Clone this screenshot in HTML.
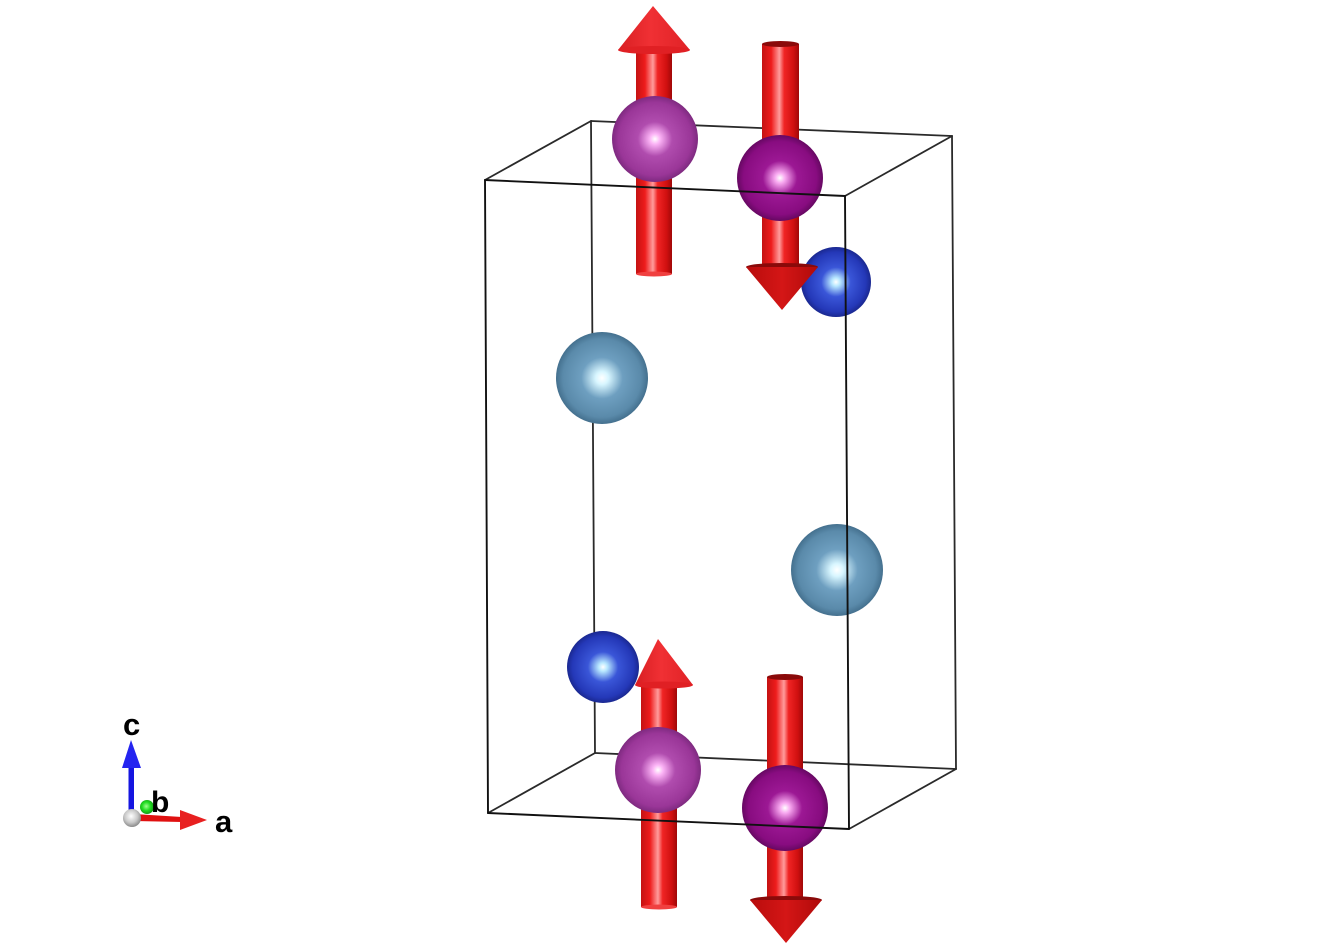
<!DOCTYPE html>
<html><head><meta charset="utf-8"><style>
html,body{margin:0;padding:0;background:#fff;}
svg{display:block;}
text{font-family:"Liberation Sans",Arial,sans-serif;font-weight:bold;}
</style></head><body>
<svg width="1320" height="950" viewBox="0 0 1320 950" xmlns="http://www.w3.org/2000/svg">
<defs>
<linearGradient id="shaft" x1="0" x2="1" y1="0" y2="0">
<stop offset="0" stop-color="#c41212"/>
<stop offset="0.25" stop-color="#ee1c1c"/>
<stop offset="0.47" stop-color="#ff9c9c"/>
<stop offset="0.6" stop-color="#f02424"/>
<stop offset="0.85" stop-color="#d01010"/>
<stop offset="1" stop-color="#a00808"/>
</linearGradient>
<linearGradient id="coneUp" x1="0" x2="1" y1="0" y2="0">
<stop offset="0" stop-color="#d81e22"/>
<stop offset="0.45" stop-color="#f03034"/>
<stop offset="1" stop-color="#e02226"/>
</linearGradient>
<linearGradient id="coneDn" x1="0" x2="1" y1="0" y2="0">
<stop offset="0" stop-color="#b80c0c"/>
<stop offset="0.5" stop-color="#d41616"/>
<stop offset="1" stop-color="#b00a0a"/>
</linearGradient>
<radialGradient id="purL" cx="0.5" cy="0.5" r="0.5">
<stop offset="0" stop-color="#ffffff"/>
<stop offset="0.12" stop-color="#fcb4f6"/>
<stop offset="0.4" stop-color="#b04cae"/>
<stop offset="0.85" stop-color="#9a3698"/>
<stop offset="1" stop-color="#7e2a80"/>
</radialGradient>
<radialGradient id="purR" cx="0.5" cy="0.5" r="0.5">
<stop offset="0" stop-color="#ffffff"/>
<stop offset="0.12" stop-color="#f8a8f0"/>
<stop offset="0.4" stop-color="#9c1894"/>
<stop offset="0.85" stop-color="#880c80"/>
<stop offset="1" stop-color="#660862"/>
</radialGradient>
<radialGradient id="blu" cx="0.5" cy="0.5" r="0.5">
<stop offset="0" stop-color="#ffffff"/>
<stop offset="0.12" stop-color="#b8e8ff"/>
<stop offset="0.42" stop-color="#3a56d8"/>
<stop offset="0.85" stop-color="#2438b8"/>
<stop offset="1" stop-color="#1a2890"/>
</radialGradient>
<radialGradient id="lbl" cx="0.5" cy="0.5" r="0.5">
<stop offset="0" stop-color="#ffffff"/>
<stop offset="0.14" stop-color="#d8f6ff"/>
<stop offset="0.45" stop-color="#6e9fc0"/>
<stop offset="0.85" stop-color="#5a8aaa"/>
<stop offset="1" stop-color="#44708e"/>
</radialGradient>
<radialGradient id="gry" cx="0.45" cy="0.4" r="0.6">
<stop offset="0" stop-color="#ffffff"/>
<stop offset="0.6" stop-color="#c8c8c8"/>
<stop offset="1" stop-color="#8a8a8a"/>
</radialGradient>
<radialGradient id="grn" cx="0.45" cy="0.45" r="0.6">
<stop offset="0" stop-color="#a0ff90"/>
<stop offset="0.5" stop-color="#22dd22"/>
<stop offset="1" stop-color="#109010"/>
</radialGradient>
</defs>

<!-- back edges -->
<g stroke="#2a2a2a" stroke-width="1.8" fill="none" stroke-linecap="round">
<line x1="591" y1="121" x2="952" y2="136"/>
<line x1="591" y1="121" x2="595" y2="753"/>
<line x1="595" y1="753" x2="956" y2="769"/>
<line x1="952" y1="136" x2="956" y2="769"/>
<line x1="485" y1="180" x2="591" y2="121"/>
<line x1="488" y1="813" x2="595" y2="753"/>
<line x1="845" y1="196" x2="952" y2="136"/>
<line x1="849" y1="829" x2="956" y2="769"/>
</g>

<!-- light blue atoms -->
<circle cx="602" cy="378" r="46" fill="url(#lbl)"/>
<circle cx="837" cy="570" r="46" fill="url(#lbl)"/>

<!-- top-left arrow (up) -->
<rect x="636" y="50" width="36" height="224" fill="url(#shaft)"/>
<ellipse cx="654" cy="274" rx="18" ry="2.5" fill="#f04040"/>
<polygon points="653,6 618,50 690,50" fill="url(#coneUp)"/>
<ellipse cx="654" cy="50" rx="36" ry="4" fill="#e02024"/>
<circle cx="655" cy="139" r="43" fill="url(#purL)"/>

<!-- top-right arrow (down) -->
<rect x="762" y="44" width="37" height="223" fill="url(#shaft)"/>
<ellipse cx="780.5" cy="44" rx="18.5" ry="3" fill="#8a0a0a"/>
<circle cx="836" cy="282" r="35" fill="url(#blu)"/>
<ellipse cx="782" cy="267" rx="36" ry="4" fill="#8a0a0a"/>
<polygon points="746,267 818,267 782,310" fill="url(#coneDn)"/>
<circle cx="780" cy="178" r="43" fill="url(#purR)"/>

<!-- bottom-left arrow (up) -->
<rect x="641" y="685" width="36" height="222" fill="url(#shaft)"/>
<ellipse cx="659" cy="907" rx="18" ry="2.5" fill="#f04040"/>
<polygon points="658,639 635,685 693,685" fill="url(#coneUp)"/>
<ellipse cx="664" cy="685" rx="29" ry="3.5" fill="#e02024"/>
<circle cx="603" cy="667" r="36" fill="url(#blu)"/>
<circle cx="658" cy="770" r="43" fill="url(#purL)"/>

<!-- bottom-right arrow (down) -->
<rect x="767" y="677" width="36" height="224" fill="url(#shaft)"/>
<ellipse cx="785" cy="677" rx="18" ry="3" fill="#8a0a0a"/>
<ellipse cx="786" cy="900" rx="36" ry="4" fill="#8a0a0a"/>
<polygon points="750,900 822,900 786,943" fill="url(#coneDn)"/>
<circle cx="785" cy="808" r="43" fill="url(#purR)"/>

<!-- front edges -->
<g stroke="#111" stroke-width="1.9" fill="none" stroke-linecap="round">
<line x1="485" y1="180" x2="845" y2="196"/>
<line x1="485" y1="180" x2="488" y2="813"/>
<line x1="845" y1="196" x2="849" y2="829"/>
<line x1="488" y1="813" x2="849" y2="829"/>
</g>

<!-- axes indicator -->
<rect x="128.5" y="764" width="5.5" height="50" fill="#1515e0"/>
<polygon points="131,740 122,768 141,768" fill="#2424f0"/>
<circle cx="147" cy="807" r="7" fill="url(#grn)"/>
<polygon points="134,814 182,817 182,822 134,821" fill="#e01010"/>
<polygon points="207,820 180,810 180,830" fill="#e82020"/>
<circle cx="132" cy="818" r="9" fill="url(#gry)"/>
<text x="123" y="735" font-size="31" fill="#000">c</text>
<text x="151" y="812" font-size="30" fill="#000">b</text>
<text x="215" y="832" font-size="31" fill="#000">a</text>
</svg>
</body></html>
